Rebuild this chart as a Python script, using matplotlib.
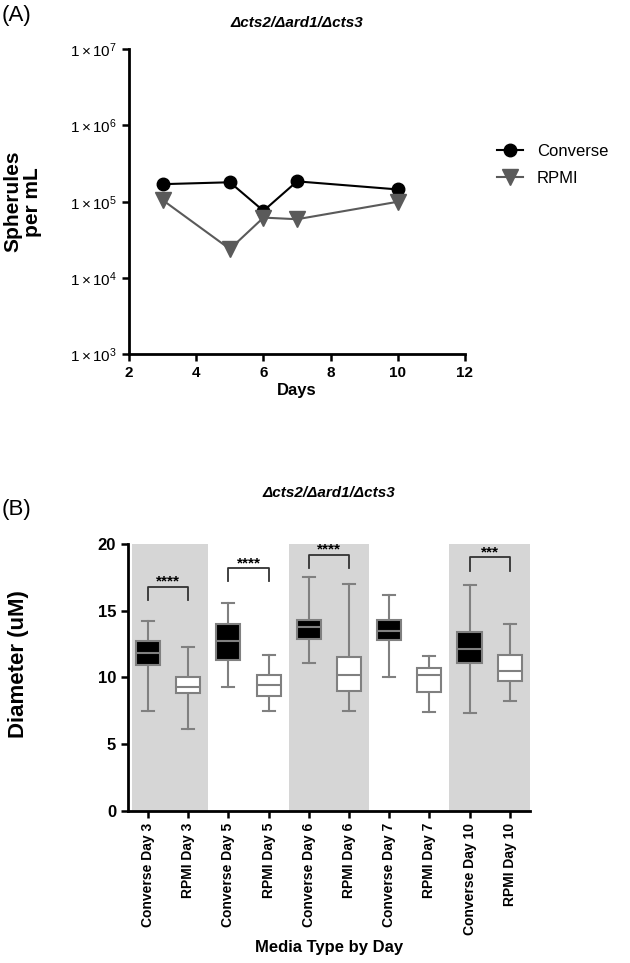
import numpy as np
import matplotlib
matplotlib.use("Agg")
from matplotlib import pyplot as plt

plt.rcParams['font.family'] = ['Liberation Sans', 'DejaVu Sans']
plt.rcParams['mathtext.fontset'] = 'custom'
plt.rcParams['mathtext.rm'] = 'Liberation Sans'
plt.rcParams['mathtext.it'] = 'Liberation Sans'

# Panel A data
days = [3, 5, 6, 7, 10]
converse = [1.7e5, 1.8e5, 7.6e4, 1.85e5, 1.45e5]
rpmi = [1.05e5, 2.4e4, 6.2e4, 5.9e4, 1.0e5]

# Panel B data
groups = ["Converse Day 3", "RPMI Day 3", "Converse Day 5", "RPMI Day 5",
          "Converse Day 6", "RPMI Day 6", "Converse Day 7", "RPMI Day 7",
          "Converse Day 10", "RPMI Day 10"]
whis_lo = [7.5, 6.1, 9.3, 7.5, 11.1, 7.5, 10.0, 7.4, 7.3, 8.2]
q1 = [10.9, 8.8, 11.3, 8.6, 12.9, 9.0, 12.8, 8.9, 11.1, 9.7]
med = [11.8, 9.3, 12.7, 9.4, 13.8, 10.2, 13.5, 10.2, 12.1, 10.5]
q3 = [12.7, 10.0, 14.0, 10.2, 14.3, 11.5, 14.3, 10.7, 13.4, 11.7]
whis_hi = [14.2, 12.3, 15.6, 11.7, 17.5, 17.0, 16.2, 11.6, 16.9, 14.0]
sig_pairs = [(0, 1), (2, 3), (4, 5), (8, 9)]
sig_heights = [16.8, 18.2, 19.2, 19.0]
sig_labels = ["****", "****", "****", "***"]

fig = plt.figure(figsize=(6.3, 9.63), dpi=100)

# ---- Panel A ----
ax1 = fig.add_axes([0.205, 0.632, 0.533, 0.317])
ax1.plot(days, converse, marker='o', color='black', markersize=9, lw=1.5, label='Converse')
ax1.plot(days, rpmi, marker='v', color='#5a5a5a', markersize=11, lw=1.5, label='RPMI')
ax1.set_yscale('log')
ax1.set_ylim(1e3, 1e7)
ax1.set_xlim(2, 12)
ax1.set_xticks([2, 4, 6, 8, 10, 12])
ax1.set_yticks([1e3, 1e4, 1e5, 1e6, 1e7])
ax1.set_yticklabels([r'$1\times10^{%d}$' % e for e in [3, 4, 5, 6, 7]])
ax1.minorticks_off()
ax1.set_xlabel("Days", fontsize=12, fontweight='bold', labelpad=2)
ax1.set_ylabel("Spherules\nper mL", fontsize=15, fontweight='bold', linespacing=1.05)
ax1.yaxis.set_label_coords(-0.26, 0.5)
ax1.set_title("Δcts2/Δard1/Δcts3", fontsize=11, fontweight='bold', style='italic', pad=16)
ax1.legend(loc='center left', bbox_to_anchor=(1.05, 0.62), frameon=False, fontsize=12,
           handlelength=1.6, labelspacing=0.7)
fig.text(0.003, 0.978, "(A)", fontsize=16)

# ---- Panel B ----
ax2 = fig.add_axes([0.203, 0.158, 0.638, 0.277])
for a, b in [(-0.4, 1.5), (3.5, 5.5), (7.5, 9.5)]:
    ax2.axvspan(a, b, color='#d6d6d6', lw=0, zorder=0)
stats = []
for i in range(len(groups)):
    stats.append(dict(whislo=whis_lo[i], q1=q1[i], med=med[i], q3=q3[i],
                      whishi=whis_hi[i], fliers=[], label=groups[i]))
pos = np.arange(len(groups))
bp = ax2.bxp(stats, positions=pos, widths=0.6, patch_artist=True, showfliers=False,
             boxprops=dict(edgecolor='#808080', linewidth=1.5),
             whiskerprops=dict(color='#808080', linewidth=1.5),
             capprops=dict(color='#808080', linewidth=1.5),
             medianprops=dict(color='#808080', linewidth=1.5), capwidths=0.3)
for i, box in enumerate(bp['boxes']):
    box.set_facecolor('black' if i % 2 == 0 else 'white')
    box.set_zorder(3)
for m in bp['medians']:
    m.set_zorder(4)
for (i, j), h, lab in zip(sig_pairs, sig_heights, sig_labels):
    ax2.plot([i, i, j, j], [h - 1.0, h, h, h - 1.0], color='#333333', lw=1.3)
    ax2.text((i + j) / 2, h - 0.15, lab, ha='center', va='bottom', fontsize=11, fontweight='bold')
ax2.set_xlim(-0.5, 9.5)
ax2.set_ylim(0, 20)
ax2.set_yticks([0, 5, 10, 15, 20])
ax2.set_xticks(pos)
ax2.set_xticklabels(groups, rotation=90, fontsize=10, fontweight='bold')
ax2.set_ylabel("Diameter (uM)", fontsize=16, fontweight='bold')
ax2.yaxis.set_label_coords(-0.245, 0.55)
ax2.set_xlabel("Media Type by Day", fontsize=12, fontweight='bold', labelpad=4)
ax2.set_title("Δcts2/Δard1/Δcts3", fontsize=11, fontweight='bold', style='italic', pad=34)
fig.text(0.003, 0.465, "(B)", fontsize=16)

for ax in [ax1, ax2]:
    ax.spines['top'].set_visible(False)
    ax.spines['right'].set_visible(False)
    ax.spines['left'].set_linewidth(2)
    ax.spines['bottom'].set_linewidth(2)
    ax.tick_params(width=1.8, length=5)
    for t in ax.get_yticklabels():
        t.set_fontweight('bold')
for t in ax1.get_xticklabels():
    t.set_fontweight('bold')
ax1.tick_params(labelsize=11)
ax2.tick_params(axis='y', labelsize=12)

fig.savefig("out.png", dpi=100)
